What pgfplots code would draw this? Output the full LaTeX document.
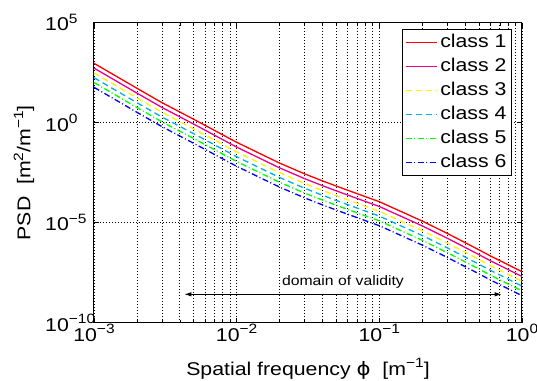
\documentclass[border=0pt]{standalone}
\usepackage{fontspec}
\setmainfont{Liberation Sans}[FakeStretch=1.15]
\newfontfamily\dejavu{DejaVu Sans}[FakeStretch=1.15]
\usepackage{pgfplots}
\pgfplotsset{compat=1.18}
\usetikzlibrary{arrows.meta}
\newcommand\sfz{\fontsize{18.5}{22}\selectfont}
\newcommand\sups[1]{\raisebox{0.4em}{\fontsize{13.5}{14}\selectfont #1}}
\newcommand\tp[1]{10\sups{#1}}
\begin{document}
\begin{tikzpicture}
\begin{axis}[
  scale only axis, width=428pt, height=300pt,
  xmode=log, ymode=log,
  xmin=1e-3, xmax=1, ymin=1e-10, ymax=1e5,
  xtick={1e-3,1e-2,1e-1,1},
  xticklabels={\tp{−3},\tp{−2},\tp{−1},\tp{0}},
  ytick={1e-10,1e-5,1,1e5},
  yticklabels={\tp{−10},\tp{−5},\tp{0},\tp{5}},
  minor xtick={2e-3,3e-3,4e-3,5e-3,6e-3,7e-3,8e-3,9e-3,2e-2,3e-2,4e-2,5e-2,6e-2,7e-2,8e-2,9e-2,2e-1,3e-1,4e-1,5e-1,6e-1,7e-1,8e-1,9e-1},
  xmajorgrids, xminorgrids, ymajorgrids,
  major grid style={black, line width=0.8pt, dash pattern=on 0.8pt off 2.2pt},
  minor grid style={black, line width=0.8pt, dash pattern=on 0.8pt off 2.2pt},
  axis line style={line width=1pt},
  tick style={black, line width=0.7pt},
  major tick length=5pt, minor tick length=3pt,
  tick label style={font=\sfz},
  xticklabel style={inner sep=1pt, yshift=-0.5pt},
  yticklabel style={anchor=west, inner sep=0pt, xshift=-49pt},
  xlabel={Spatial frequency {\dejavu ϕ}\ \ [m\sups{−1}]},
  ylabel={PSD\ \ [m\sups{2}/m\sups{−1}]},
  every axis x label/.style={at={([yshift=-52.3pt]rel axis cs:0.5,0)}, anchor=base, inner sep=0pt, font=\sfz},
  every axis y label/.style={at={([xshift=-63.5pt]rel axis cs:0,0.5)}, rotate=90, anchor=base, inner sep=0pt, font=\sfz},
  legend image code/.code={\draw[#1] (0pt,0pt) -- (31pt,0pt);},
  legend cell align=left,
  legend style={at={(rel axis cs:0.9766,0.98)}, anchor=north east, draw=black, line width=1pt, fill=white,
    inner xsep=2pt, inner ysep=1pt, row sep=0pt, font=\sfz,
    nodes={inner xsep=3pt, inner ysep=2pt, text height=15pt, text depth=5pt}},
]
\coordinate (bl) at (rel axis cs:0,0);
\coordinate (tr) at (rel axis cs:1,1);
\addplot[red, line width=1.3pt] coordinates {
(0.001,9.333e2) (0.002,5.248e1) (0.003,1.0e1) (0.005,1.479) (0.01,1.047e-1) (0.02,9.550e-3) (0.03,2.754e-3) (0.04,1.230e-3) (0.05,6.761e-4) (0.07,2.818e-4) (0.1,1.122e-4) (0.2,1.202e-5) (0.3,2.884e-6) (0.4,1.0e-6) (0.5,4.365e-7) (0.6,2.188e-7) (1,3.548e-8)};
\addplot[magenta, line width=1.3pt] coordinates {
(0.001,5.370e2) (0.002,3.020e1) (0.003,5.754) (0.005,8.511e-1) (0.01,6.026e-2) (0.02,5.495e-3) (0.03,1.585e-3) (0.04,7.079e-4) (0.05,3.890e-4) (0.07,1.622e-4) (0.1,6.457e-5) (0.2,6.918e-6) (0.3,1.660e-6) (0.4,5.754e-7) (0.5,2.512e-7) (0.6,1.259e-7) (1,2.042e-8)};
\addplot[yellow, line width=1.3pt, dash pattern=on 6pt off 4pt] coordinates {
(0.001,3.090e2) (0.002,1.738e1) (0.003,3.311) (0.005,4.898e-1) (0.01,3.467e-2) (0.02,3.162e-3) (0.03,9.120e-4) (0.04,4.074e-4) (0.05,2.239e-4) (0.07,9.333e-5) (0.1,3.715e-5) (0.2,3.981e-6) (0.3,9.550e-7) (0.4,3.311e-7) (0.5,1.445e-7) (0.6,7.244e-8) (1,1.175e-8)};
\addplot[cyan, line width=1.3pt, dash pattern=on 6pt off 4pt] coordinates {
(0.001,1.778e2) (0.002,1.0e1) (0.003,1.905) (0.005,2.818e-1) (0.01,1.995e-2) (0.02,1.820e-3) (0.03,5.248e-4) (0.04,2.344e-4) (0.05,1.288e-4) (0.07,5.370e-5) (0.1,2.138e-5) (0.2,2.291e-6) (0.3,5.495e-7) (0.4,1.905e-7) (0.5,8.318e-8) (0.6,4.169e-8) (1,6.761e-9)};
\addplot[green, line width=1.3pt, dash pattern=on 6pt off 2.5pt on 1pt off 2.5pt] coordinates {
(0.001,1.023e2) (0.002,5.754) (0.003,1.096) (0.005,1.622e-1) (0.01,1.148e-2) (0.02,1.047e-3) (0.03,3.020e-4) (0.04,1.349e-4) (0.05,7.413e-5) (0.07,3.090e-5) (0.1,1.230e-5) (0.2,1.318e-6) (0.3,3.162e-7) (0.4,1.096e-7) (0.5,4.786e-8) (0.6,2.399e-8) (1,3.890e-9)};
\addplot[blue, line width=1.3pt, dash pattern=on 6pt off 2.5pt on 1pt off 2.5pt] coordinates {
(0.001,5.888e1) (0.002,3.311) (0.003,6.310e-1) (0.005,9.333e-2) (0.01,6.607e-3) (0.02,6.026e-4) (0.03,1.738e-4) (0.04,7.762e-5) (0.05,4.266e-5) (0.07,1.778e-5) (0.1,7.079e-6) (0.2,7.586e-7) (0.3,1.820e-7) (0.4,6.310e-8) (0.5,2.754e-8) (0.6,1.380e-8) (1,2.239e-9)};
\legend{class 1,class 2,class 3,class 4,class 5,class 6}
\draw[{Latex[length=7pt,width=4.5pt]}-{Latex[length=7pt,width=4.5pt]}, line width=0.9pt] (axis cs:4.3e-3,2.63e-9) -- (axis cs:0.72,2.63e-9);
\node[fill=white, inner xsep=1pt, inner ysep=5pt, font=\fontsize{13.7}{16}\selectfont] at (axis cs:0.0556,1.12e-8) {domain of validity};
\end{axis}
\pgfresetboundingbox
\path[use as bounding box] ([xshift=-94pt,yshift=-58.3pt]bl) rectangle ([xshift=15pt,yshift=22.7pt]tr);
\end{tikzpicture}
\end{document}
